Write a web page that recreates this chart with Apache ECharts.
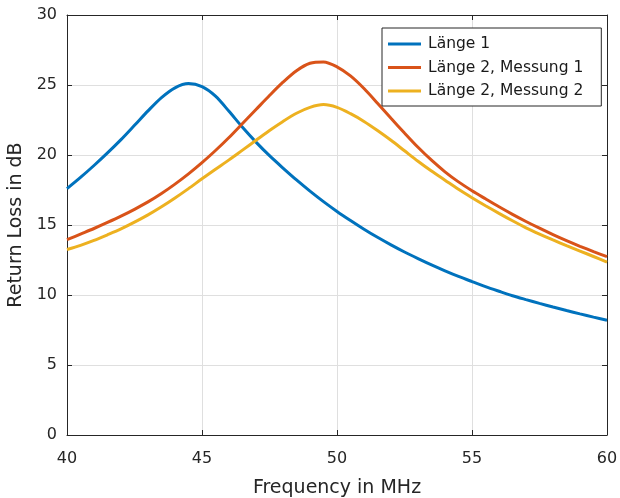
<!DOCTYPE html>
<html>
<head>
<meta charset="utf-8">
<script src="https://cdn.jsdelivr.net/npm/echarts@6/dist/echarts.min.js"></script>
<style>html,body{margin:0;padding:0;background:#fff;}#c{width:620px;height:498px;}</style>
</head>
<body>
<div id="c"></div>
<script>
const freq = [40,40.5,41,41.5,42,42.5,43,43.5,44,44.5,45,45.5,46,46.5,47,47.5,48,48.5,49,49.5,50,50.5,51,51.5,52,52.5,53,53.5,54,54.5,55,55.5,56,56.5,57,57.5,58,58.5,59,59.5,60];
const laenge1 = [17.6,18.4,19.25,20.15,21.1,22.12,23.15,24.1,24.8,25.1,24.88,24.2,23.12,21.98,20.92,19.95,19.07,18.22,17.42,16.67,15.97,15.32,14.7,14.12,13.58,13.07,12.6,12.15,11.73,11.33,10.96,10.6,10.27,9.95,9.67,9.4,9.14,8.89,8.65,8.42,8.2];
const laenge2m1 = [13.95,14.35,14.75,15.18,15.63,16.12,16.65,17.25,17.92,18.65,19.45,20.32,21.25,22.25,23.25,24.25,25.2,26.02,26.55,26.65,26.3,25.65,24.75,23.7,22.62,21.57,20.55,19.63,18.8,18.08,17.45,16.87,16.3,15.76,15.25,14.77,14.31,13.88,13.48,13.1,12.74];
const laenge2m2 = [13.25,13.55,13.9,14.3,14.72,15.2,15.72,16.3,16.93,17.6,18.3,18.98,19.65,20.35,21.05,21.75,22.4,22.98,23.4,23.6,23.4,22.95,22.4,21.75,21.05,20.3,19.55,18.85,18.2,17.55,16.95,16.38,15.83,15.3,14.8,14.35,13.93,13.53,13.14,12.75,12.35];
const seriesNames = ['Länge 1','Länge 2, Messung 1','Länge 2, Messung 2'];
const xTicks = [40,45,50,55,60];
const yTicks = [0,5,10,15,20,25,30];

const pairs = v => freq.map((f,i)=>[f,v[i]]);
const colors = ['#0072BD','#D95319','#EDB120'];
const font = '"DejaVu Sans", sans-serif';
const txt = '#262626';
const chart = echarts.init(document.getElementById('c'));
const baseAxis = {
  axisLine:{show:true,onZero:false,lineStyle:{color:txt,width:1}},
  axisTick:{show:true,inside:true,length:5,lineStyle:{color:txt}},
  splitLine:{show:false},
  axisLabel:{show:false}
};
chart.setOption({
  animation:false,
  grid:{left:67,right:13,top:15,bottom:63,containLabel:false,outerBoundsMode:'none'},
  legend:{
    orient:'vertical',left:382,top:28,
    backgroundColor:'#fff',borderColor:'#262626',borderWidth:1,
    padding:[8,18,7,6],
    itemWidth:33,itemHeight:3,itemGap:7.5,icon:'rect',
    textStyle:{fontFamily:font,fontSize:15.5,color:'#1a1a1a',lineHeight:16,padding:[0,0,0,2]},
    data:seriesNames
  },
  xAxis:[
    {type:'value',min:40,max:60,interval:5,position:'bottom',
     name:'Frequency in MHz',nameLocation:'middle',nameGap:44,
     nameTextStyle:{fontFamily:font,fontSize:19,color:txt},
     axisLine:{show:true,onZero:false,lineStyle:{color:txt,width:1}},
     axisTick:{show:true,inside:true,length:5,lineStyle:{color:txt}},
     axisLabel:{fontFamily:font,fontSize:16,color:txt,margin:16,
       formatter:v=>xTicks.includes(v)?String(v):''},
     splitLine:{show:true,lineStyle:{color:'#dfdfdf',width:1}}},
    Object.assign({type:'value',min:40,max:60,interval:5,position:'top'},baseAxis)
  ],
  yAxis:[
    {type:'value',min:0,max:30,interval:5,position:'left',
     name:'Return Loss in dB',nameLocation:'middle',nameGap:37,
     nameTextStyle:{fontFamily:font,fontSize:19,color:txt},
     axisLine:{show:true,onZero:false,lineStyle:{color:txt,width:1}},
     axisTick:{show:true,inside:true,length:5,lineStyle:{color:txt}},
     axisLabel:{fontFamily:font,fontSize:16,color:txt,margin:10,
       formatter:v=>yTicks.includes(v)?String(v):''},
     splitLine:{show:true,lineStyle:{color:'#dfdfdf',width:1}}},
    Object.assign({type:'value',min:0,max:30,interval:5,position:'right'},baseAxis)
  ],
  series:[laenge1,laenge2m1,laenge2m2].map((v,i)=>({
    name:seriesNames[i],type:'line',data:pairs(v),smooth:0.3,
    showSymbol:false,symbol:'none',
    lineStyle:{color:colors[i],width:3},itemStyle:{color:colors[i]},
    xAxisIndex:0,yAxisIndex:0
  }))
});
</script>
</body>
</html>
